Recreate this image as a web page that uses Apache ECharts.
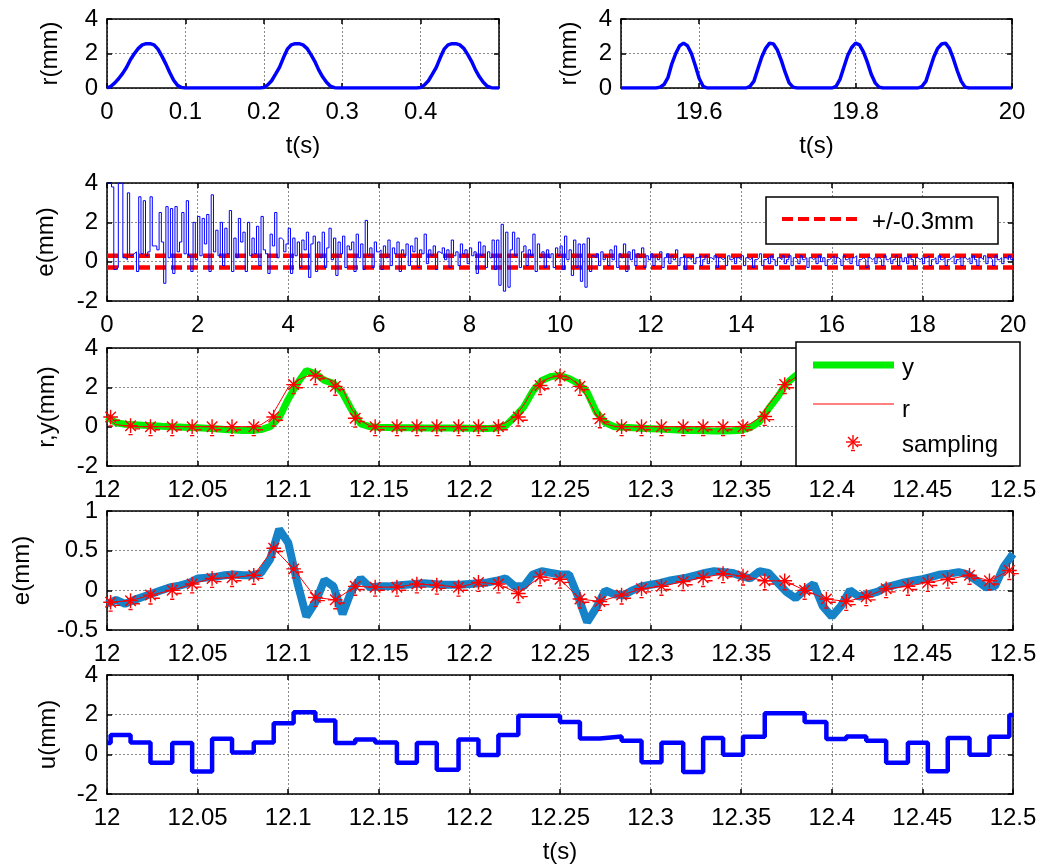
<!DOCTYPE html>
<html>
<head>
<meta charset="utf-8">
<script src="https://cdn.jsdelivr.net/npm/echarts@6/dist/echarts.min.js"></script>
<style>
  html, body { margin: 0; padding: 0; background: #fff; }
  #chart { width: 1045px; height: 867px; }
</style>
</head>
<body>
<div id="chart"></div>
<script>
// panel 1: reference r(t), 0 .. 0.5 s, one value every 5 ms
var r1Start = 0, r1Step = 0.005;
var r1 = [0,0.1,0.3,0.55,0.85,1.2,1.65,2.0,2.3,2.5, 2.57,2.57,2.5,2.25,1.85,1.4,0.9,0.45,0.15,0.03,
  0,0,0,0,0,0,0,0,0,0, 0,0,0,0,0,0,0,0,0,0,
  0.03,0.18,0.42,0.8,1.2,1.75,2.25,2.5,2.57,2.57, 2.5,2.3,1.95,1.55,1.05,0.65,0.33,0.1,0.02,0,
  0,0,0,0,0,0,0,0,0,0, 0,0,0,0,0,0,0,0,0,0,
  0.03,0.18,0.42,0.8,1.2,1.75,2.25,2.5,2.57,2.57, 2.5,2.3,1.95,1.55,1.05,0.65,0.33,0.1,0.02,0, 0];

// panel 2: r(t), 19.5 .. 20 s, every 5 ms
var r2Start = 19.5, r2Step = 0.005;
var r2 = [0,0,0,0,0,0,0,0,0,0, 0.05,0.2,0.6,1.4,2.0,2.45,2.6,2.45,2.0,1.3,
  0.55,0.1,0,0,0,0,0,0,0,0, 0,0,0,0.1,0.4,1.1,1.8,2.3,2.6,2.55,
  2.2,1.6,0.9,0.3,0.05,0,0,0,0,0, 0,0,0,0,0,0.1,0.5,1.2,1.9,2.35,
  2.6,2.5,2.1,1.5,0.8,0.3,0.05,0,0,0, 0,0,0,0,0,0,0,0.1,0.4,1.1,
  1.8,2.3,2.55,2.6,2.3,1.7,1.0,0.4,0.05,0, 0,0,0,0,0,0,0,0,0,0, 0];

// panel 3: tracking error over the whole run, 0 .. 20 s, every 50 ms
var e3Start = 0, e3Step = 0.05;
var e3 = [
  4,4,3.8,-0.4,-0.3,4,4,0.2,0.1,3.5,0.3,0.4,0.5,-0.5,3.3,0.4,3.1,0.3,0.5,3.3,
  0.8,0.8,0.6,2.5,1.0,-1.1,2.8,0.2,2.7,-0.6,2.8,0.5,1.0,2.5,0.4,3.1,0.3,-0.5,2.0,0.1,
  2.3,0.3,2.2,0.9,2.4,-0.5,3.4,0.5,1.6,0.3,2.0,-0.2,1.7,0.4,2.6,-0.5,1.2,0.2,2.2,1.0,
  1.5,-0.5,2.0,0.3,1.2,0.4,1.8,-0.2,2.3,0.6,0.4,-0.6,1.4,0.8,2.5,0.2,1.2,1.1,0.5,0.9,
  1.7,-0.6,1.2,0.3,1.0,-0.3,1.1,0.6,1.5,-0.8,0.9,1.3,-0.5,1.0,0.2,1.5,-0.3,0.7,1.7,0.1,
  1.2,-0.7,1.0,0.4,1.3,-0.3,0.8,0.6,1.0,-0.5,1.4,0.2,0.9,-0.4,2.1,0.3,0.7,-0.3,1.0,0.5,
  0.6,-0.4,0.8,0.2,1.1,-0.2,0.7,0.4,1.0,-0.5,0.6,0.3,0.9,-0.2,0.8,0.5,1.2,-0.3,0.6,0.4,
  1.4,-0.1,0.6,0.3,0.8,-0.4,0.5,0.4,0.7,0.1,0.6,-0.3,1.1,0.3,0.5,-0.2,0.9,0.4,0.6,-0.1,
  0.7,0.3,0.5,-0.6,1.0,0.3,0.8,-0.3,0.5,0.2,1.1,-0.4,1.1,-1.2,1.9,-1.5,1.5,-1.3,0.6,1.5,
  0.3,1.2,-0.3,0.5,0.8,-0.2,0.6,0.3,1.4,-0.5,0.9,0.2,0.5,-0.3,0.6,0.2,0.4,-0.3,0.7,0.3,
  0.8,-0.4,1.3,0.1,0.6,-0.7,1.1,-0.3,0.9,-1.0,0.9,-1.3,1.2,-0.5,0.3,0.2,0.4,-0.2,0.5,0.1,
  0.3,-0.2,0.6,0.1,0.8,-0.3,0.4,0.2,0.9,-0.5,0.5,0.1,0.6,-0.2,0.4,0.2,0.7,-0.3,0.3,0.1,
  0.4,-0.2,0.3,0.1,0.5,-0.3,0.2,0.4,-0.1,0.3,0.1,0.6,-0.2,0.2,0.3,-0.4,0.2,0.1,0.3,-0.1,
  0.2,0.3,-0.2,0.1,0.3,-0.1,0.2,0.1,0.3,-0.3,0.2,0.1,0.2,-0.2,0.3,0.1,0.2,-0.1,0.2,0.1,
  0.3,-0.2,0.2,0.1,0.2,-0.3,0.1,0.2,0.4,-0.2,0.1,0.2,-0.1,0.3,0.1,-0.2,0.2,0.1,0.3,-0.1,
  0.1,0.3,-0.2,0.2,0.1,-0.1,0.3,0.1,0.2,-0.3,0.2,0.1,0.2,-0.1,0.3,0.0,0.2,-0.2,0.1,0.2,
  0.3,-0.1,0.2,0.1,-0.2,0.3,0.1,0.2,-0.1,0.2,0.3,-0.2,0.1,0.2,0.1,-0.3,0.2,0.1,0.2,-0.1,
  0.2,0.1,-0.2,0.3,0.1,0.2,-0.1,0.1,0.3,-0.2,0.2,0.0,0.2,-0.1,0.3,0.1,-0.2,0.2,0.1,0.2,
  -0.1,0.2,0.3,-0.2,0.1,0.2,-0.1,0.3,0.1,0.2,-0.2,0.1,0.2,0.3,-0.1,0.1,0.2,-0.2,0.2,0.1,
  0.2,-0.1,0.3,0.1,-0.2,0.2,0.1,0.3,-0.1,0.2,0.1,-0.2,0.3,0.1,0.2,-0.1,0.2,0.1,0.3,0.1,0.2];
var band = 0.3;

// panels 4-6: 12 .. 12.5 s, every 5 ms
var fStart = 12, fStep = 0.005;
var yOut = [0.5,0.2,0.12,0.1,0.07,0.05,0.02,0,-0.02,-0.04,
  -0.06,-0.08,-0.11,-0.14,-0.17,-0.19,-0.2,-0.15,0.0,0.45,
  1.4,2.2,2.85,2.7,2.35,2.2,1.7,0.85,0.14,0.0,
  -0.03,-0.04,-0.05,-0.05,-0.06,-0.07,-0.07,-0.07,-0.07,-0.07,
  -0.08,-0.08,-0.09,-0.07,0.05,0.5,1.0,1.8,2.35,2.55,
  2.6,2.45,2.2,1.75,0.75,0.2,0.0,-0.03,-0.05,-0.08,
  -0.1,-0.12,-0.15,-0.17,-0.2,-0.2,-0.21,-0.22,-0.22,-0.21,
  -0.18,-0.05,0.25,0.9,1.5,2.2,2.6,2.7,2.65,2.4,
  2.1,1.4,0.6,0.1,0.0,0.02,-0.04,-0.07,-0.1,-0.12,
  -0.14,-0.17,-0.2,-0.21,-0.23,-0.2,-0.1,0.1,0.35,0.6, 1.05];
var rRef = [0.45,0.1,0.05,0,0,0,0,0,0,0,
  0,0,0,0,0,0,0,0.1,0.4,1.2,
  2.0,2.35,2.55,2.6,2.5,2.3,1.95,0.9,0.3,0.05,
  0,0,0,0,0,0,0,0,0,0,
  0,0,0,0.05,0.2,0.5,1.1,1.9,2.3,2.5,
  2.6,2.5,2.15,1.5,0.6,0.15,0.02,0,0,0,
  0,0,0,0,0,0,0,0,0,0,
  0.02,0.15,0.45,1.1,1.7,2.2,2.5,2.6,2.5,2.2,
  1.7,1.0,0.4,0.1,0.02,0,0,0,0,0,
  0,0,0,0,0,0,0.02,0.15,0.4,0.9, 1.5];
var eFine = [-0.17,-0.12,-0.17,-0.12,-0.08,-0.04,0.0,0.04,0.06,0.09,
  0.15,0.16,0.17,0.19,0.2,0.19,0.19,0.22,0.39,0.77,
  0.6,0.1,-0.33,-0.15,0.13,0.05,-0.3,0.0,0.15,0.04,
  0.05,0.05,0.06,0.07,0.08,0.09,0.08,0.07,0.07,0.07,
  0.08,0.09,0.1,0.12,0.15,0.05,0.05,0.2,0.24,0.22,
  0.2,0.2,-0.08,-0.4,-0.22,0.0,-0.05,-0.065,0.0,0.05,
  0.07,0.09,0.12,0.14,0.16,0.19,0.22,0.24,0.23,0.22,
  0.18,0.15,0.24,0.22,0.1,-0.02,-0.1,0.0,0.08,-0.2,
  -0.33,-0.2,0.0,-0.08,-0.05,-0.02,0.04,0.07,0.1,0.12,
  0.14,0.17,0.2,0.21,0.23,0.2,0.12,0.04,0.05,0.3, 0.46];

// sampling instants and sampled values
var tS = [12.002,12.013,12.024,12.036,12.047,12.058,12.069,12.081,12.092,12.103,
  12.115,12.126,12.137,12.148,12.160,12.171,12.182,12.194,12.205,12.216,
  12.227,12.239,12.250,12.261,12.272,12.284,12.295,12.306,12.318,12.329,
  12.340,12.351,12.363,12.374,12.385,12.397,12.408,12.419,12.430,12.442,
  12.453,12.464,12.476,12.487,12.498];
var rS = [0.49,0.05,0,0,0,0,0,0,0.49,2.14,
  2.6,2.05,0.43,0,0,0,0,0,0,0,
  0.49,2.09,2.57,2.05,0.4,0,0,0,0,0,
  0,0,0.52,2.14,2.6,2.1,0.45,0,0,0,
  0,0,0,0,0.45];
var eS = [-0.15,-0.13,-0.06,0,0.08,0.15,0.16,0.19,0.53,0.27,
  -0.09,-0.12,0.05,0.04,0.04,0.08,0.065,0.04,0.1,0.08,
  -0.04,0.17,0.14,-0.11,-0.14,-0.06,0.02,0.05,0.11,0.16,
  0.21,0.18,0.12,0.12,0,-0.11,-0.14,-0.08,0.02,0.05,
  0.1,0.14,0.19,0.12,0.25];
var uBefore = 0.57;
var uS = [0.97,0.6,-0.43,0.57,-0.86,0.78,0.09,0.6,1.57,2.12,
  1.7,0.57,0.75,0.6,-0.43,0.57,-0.78,0.75,-0.03,0.97,
  1.95,1.95,1.63,0.8,0.9,0.68,-0.4,0.59,-0.89,0.82,
  -0.02,0.89,2.07,2.07,1.63,0.77,0.9,0.68,-0.42,0.59,
  -0.85,0.82,-0.02,0.89,1.98];

function even(start, step, vals) {
  return vals.map(function (v, i) { return [+(start + i * step).toFixed(4), v]; });
}
function pairs(ts, vals) {
  return ts.map(function (t, i) { return [t, vals[i]]; });
}

var FONT = '"Liberation Sans", Arial, sans-serif';
var FS = 24;
// asterisk marker, with the little stray dashes of the original export
var STAR = 'path://M0 0L0 0M20 20L20 20M10 3L10 17M3 10L17 10M5 5L15 15M5 15L15 5M14 13L19 13M8 18.5L12 18.5';

var grids = [
  { left: 107, top: 19, width: 392, height: 69 },
  { left: 621, top: 19, width: 391, height: 69 },
  { left: 107, top: 183, width: 906, height: 118 },
  { left: 107, top: 348, width: 906, height: 118 },
  { left: 107, top: 511, width: 906, height: 119 },
  { left: 107, top: 675, width: 906, height: 119 }
];
var xSpec = [
  { min: 0, max: 0.5, interval: 0.1, name: 't(s)', hideMax: true },
  { min: 19.5, max: 20, splitNumber: 3, name: 't(s)', hideMin: true },
  { min: 0, max: 20, interval: 2 },
  { min: 12, max: 12.5, interval: 0.05 },
  { min: 12, max: 12.5, interval: 0.05 },
  { min: 12, max: 12.5, interval: 0.05, name: 't(s)' }
];
var ySpec = [
  { min: 0, max: 4, interval: 2, name: 'r(mm)', gap: 45 },
  { min: 0, max: 4, interval: 2, name: 'r(mm)', gap: 40 },
  { min: -2, max: 4, interval: 2, name: 'e(mm)', gap: 49 },
  { min: -2, max: 4, interval: 2, name: 'r,y(mm)', gap: 48 },
  { min: -0.5, max: 1, interval: 0.5, name: 'e(mm)', gap: 73 },
  { min: -2, max: 4, interval: 2, name: 'u(mm)', gap: 47 }
];

function axis(spec, gi, pos, main) {
  var a = {
    type: 'value', gridIndex: gi, position: pos, min: spec.min, max: spec.max,
    axisLine: { show: true, onZero: false, lineStyle: { color: '#000', width: 1.5 } },
    axisTick: { show: true, inside: true, length: 5, lineStyle: { color: '#000', width: 1.5 } },
    axisLabel: { show: main, color: '#000', fontSize: FS, fontFamily: FONT,
      formatter: function (v) { return String(+v.toFixed(3)); } },
    splitLine: { show: main, lineStyle: { color: '#8a8a8a', type: [2, 2], width: 1 } }
  };
  if (spec.interval) a.interval = spec.interval; else a.splitNumber = spec.splitNumber;
  if (spec.hideMax) a.axisLabel.showMaxLabel = false;
  if (spec.hideMin) a.axisLabel.showMinLabel = false;
  return a;
}

var xAxes = [], yAxes = [];
grids.forEach(function (g, i) {
  var xb = axis(xSpec[i], i, 'bottom', true);
  xb.axisLabel.margin = 12;
  if (xSpec[i].name) {
    xb.name = xSpec[i].name; xb.nameLocation = 'middle'; xb.nameGap = 46;
    xb.nameTextStyle = { color: '#000', fontSize: FS, fontFamily: FONT };
  }
  xAxes.push(xb, axis(xSpec[i], i, 'top', false));
  var yl = axis(ySpec[i], i, 'left', true);
  yl.axisLabel.margin = 9;
  yl.name = ySpec[i].name; yl.nameLocation = 'middle'; yl.nameGap = ySpec[i].gap;
  yl.nameTextStyle = { color: '#000', fontSize: FS, fontFamily: FONT };
  yAxes.push(yl, axis(ySpec[i], i, 'right', false));
});

function line(gi, data, color, width, extra) {
  var s = { type: 'line', xAxisIndex: 2 * gi, yAxisIndex: 2 * gi, data: data,
    showSymbol: false, symbol: 'none', silent: true, animation: false,
    lineStyle: { color: color, width: width } };
  for (var k in extra) s[k] = extra[k];
  return s;
}
function stars(gi, data, z) {
  return { type: 'scatter', xAxisIndex: 2 * gi, yAxisIndex: 2 * gi, data: data,
    symbol: STAR, symbolSize: 21, silent: true, animation: false, z: z,
    itemStyle: { color: 'transparent', borderColor: '#ff0000', borderWidth: 1.4, opacity: 1 } };
}

var uData = [[12, uBefore]].concat(pairs(tS, uS)).concat([[12.5, uS[uS.length - 1]]]);
var bandLine = { color: '#ff0000', width: 4.5, type: [11, 5] };

var series = [
  line(0, even(r1Start, r1Step, r1), '#0000ff', 3.5),
  line(1, even(r2Start, r2Step, r2), '#0000ff', 3.5),
  line(2, [[0, band], [20, band]], '#ff0000', 4.5, { lineStyle: bandLine, z: 2 }),
  line(2, [[0, -band], [20, -band]], '#ff0000', 4.5, { lineStyle: bandLine, z: 2 }),
  line(2, even(e3Start, e3Step, e3), '#0000ff', 1, { step: 'end', z: 3 }),
  line(3, even(fStart, fStep, yOut), '#00ee00', 7, { z: 2 }),
  line(3, even(fStart, fStep, rRef), '#ff0000', 1, { z: 3 }),
  stars(3, pairs(tS, rS), 4),
  line(4, even(fStart, fStep, eFine), '#1682c8', 8, { z: 2 }),
  line(4, pairs(tS, eS), '#ff0000', 1, { z: 3 }),
  stars(4, pairs(tS, eS), 4),
  line(5, uData, '#0000ff', 4.5, { step: 'end' })
];

function txt(x, y, s) {
  return { type: 'text', x: x, y: y, z: 101,
    style: { text: s, fill: '#000', fontSize: FS, fontFamily: FONT, verticalAlign: 'middle' } };
}
function seg(x1, y1, x2, y2) {
  return { type: 'line', z: 101, shape: { x1: x1, y1: y1, x2: x2, y2: y2 },
    style: { stroke: '#ff0000', lineWidth: 1.4 } };
}
// legend asterisk centred at (853, 442)
var lx = 853, ly = 442;
var legendStar = [
  seg(lx, ly - 7, lx, ly + 7), seg(lx - 7, ly, lx + 7, ly),
  seg(lx - 5, ly - 5, lx + 5, ly + 5), seg(lx - 5, ly + 5, lx + 5, ly - 5),
  seg(lx + 4, ly + 3, lx + 9, ly + 3), seg(lx - 2, ly + 8.5, lx + 2, ly + 8.5)
];
var graphic = [
  // legend of the whole-run error panel
  { type: 'rect', z: 100, shape: { x: 766, y: 197, width: 232, height: 47 },
    style: { fill: '#fff', stroke: '#000', lineWidth: 1.5 } },
  { type: 'line', z: 101, shape: { x1: 782, y1: 219, x2: 860, y2: 219 },
    style: { stroke: '#ff0000', lineWidth: 4, lineDash: [11, 5] } },
  txt(872, 222, '+/-0.3mm'),
  // legend of the r,y panel
  { type: 'rect', z: 100, shape: { x: 796, y: 342, width: 224, height: 124 },
    style: { fill: '#fff', stroke: '#000', lineWidth: 1.5 } },
  { type: 'line', z: 101, shape: { x1: 813, y1: 365, x2: 894, y2: 365 },
    style: { stroke: '#00ee00', lineWidth: 7 } },
  txt(902, 368, 'y'),
  { type: 'line', z: 101, shape: { x1: 813, y1: 404, x2: 894, y2: 404 },
    style: { stroke: '#ff0000', lineWidth: 1 } },
  txt(902, 410, 'r'),
  txt(902, 445, 'sampling')
].concat(legendStar);

var chart = echarts.init(document.getElementById('chart'));
chart.setOption({
  backgroundColor: '#fff',
  animation: false,
  grid: grids.map(function (g) {
    return { left: g.left, top: g.top, width: g.width, height: g.height,
      containLabel: false, outerBoundsMode: 'none', show: false };
  }),
  xAxis: xAxes,
  yAxis: yAxes,
  series: series,
  graphic: graphic
});
</script>
</body>
</html>
